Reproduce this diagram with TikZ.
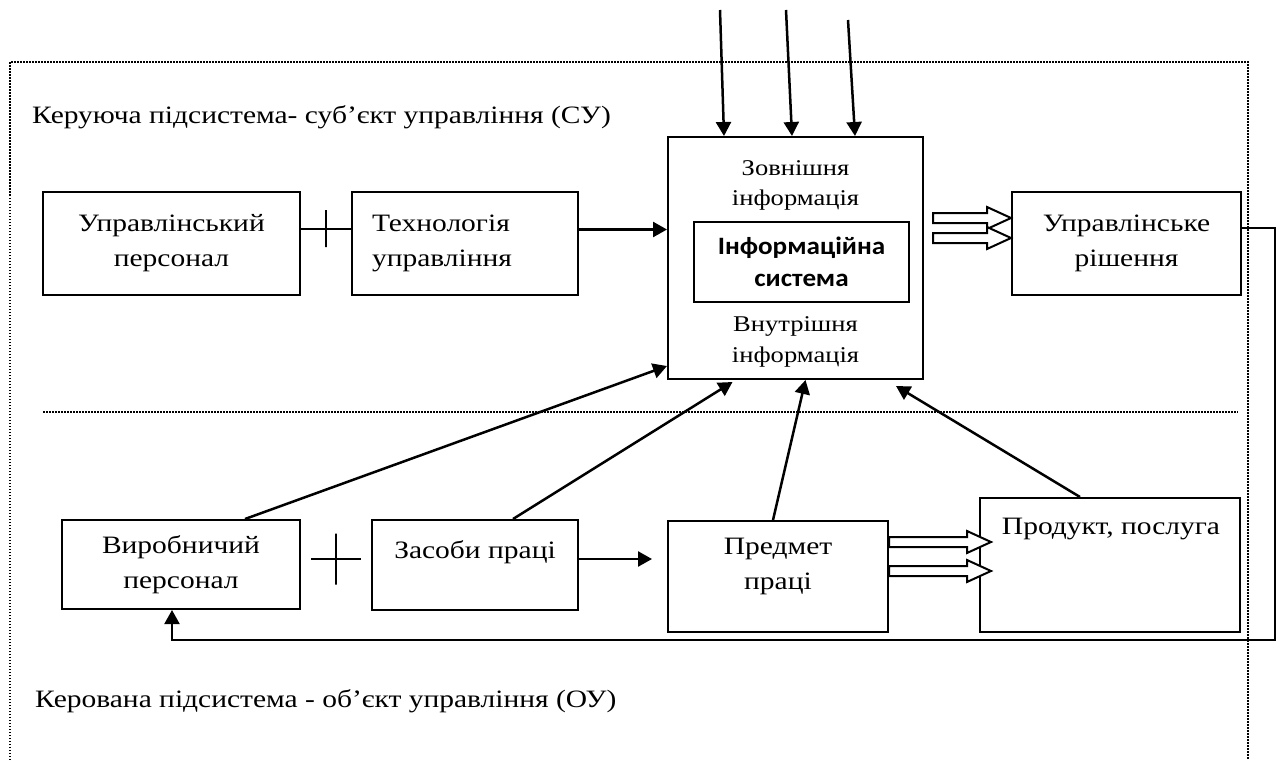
\documentclass[tikz,border=0pt]{standalone}
\usepackage{fontspec}
\setmainfont[FakeStretch=1.18]{Liberation Serif}
\newfontfamily\boldsans[FakeStretch=1.085]{Carlito}
\usetikzlibrary{arrows.meta,calc}

% open block arrow from #1 to the tip #2 (same height)
\newcommand\fatarrow[2]{%
  \draw[line width=2pt,fill=white] let \p1=#1, \p2=#2 in
    (\x1,\y1+5pt) -- (\x2-24pt,\y1+5pt) -- (\x2-24pt,\y1+11pt) -- (\x2,\y1)
    -- (\x2-24pt,\y1-11pt) -- (\x2-24pt,\y1-5pt) -- (\x1,\y1-5pt) -- cycle;}

\begin{document}
\begin{tikzpicture}[x=1pt,y=-1pt,
    box/.style={draw,line width=2pt,inner sep=0pt,align=center,
      font=\fontsize{25}{35}\selectfont},
    txt/.style={inner sep=0pt,align=center,font=\fontsize{25}{35}\selectfont},
    arr/.style={line width=2.5pt,-{Triangle[length=14pt,width=15pt]}},
    link/.style={line width=2pt},
    tick/.style={draw,line width=2pt,minimum width=0pt,inner sep=0pt},
    dotline/.style={line width=1.6pt,dash pattern=on 1.5pt off 1.5pt}]
\useasboundingbox (0,0) rectangle (1279,760);

% frame and border between the subsystems
\draw[dotline] (10,760) -- (10,62) -- (1248,62) -- (1248,760);
\draw[dotline] (43,412) -- (1238,412);

\node[txt,anchor=base west] (cu) at (32,123) {Керуюча підсистема- суб’єкт управління (СУ)};
\node[txt,anchor=base west] (ou) at (35,707) {Керована підсистема - об’єкт управління (ОУ)};

% control subsystem
\node[box,minimum width=257pt,minimum height=103pt] (upers) at (171.5,243.5) {Управлінський\\персонал};
\node[box,minimum width=226pt,minimum height=103pt,text width=186pt,align=left] (tech) at (465,243.5) {Технологія\\управління};
\node[box,minimum width=255pt,minimum height=242pt] (sys) at (795.5,258) {};
\node[txt,anchor=north,font=\fontsize{22.5}{30}\selectfont] (ext) at (795.5,160) {Зовнішня\\інформація};
\node[txt,anchor=north,font=\fontsize{22.5}{31}\selectfont] (int) at (795.5,316) {Внутрішня\\інформація};
\node[box,minimum width=215pt,minimum height=80pt,font=\boldsans\bfseries\fontsize{25}{32}\selectfont] (core) at (801.5,262) {Інформаційна\\система};
\node[box,minimum width=229pt,minimum height=103pt] (dec) at (1126.5,243.5) {Управлінське\\рішення};

% managed subsystem
\node[box,minimum width=238pt,minimum height=89pt] (wpers) at (181,564.5) {Виробничий\\персонал};
\node[box,minimum width=206pt,minimum height=90pt] (means) at (475,565) {};
\node[txt,anchor=base] (meanst) at (475,558) {Засоби праці};
\node[box,minimum width=220pt,minimum height=111pt] (subj) at (778,576.5) {};
\node[txt,anchor=north] (subjt) at (778,538) {Предмет\\праці};
\node[box,minimum width=260pt,minimum height=134pt] (prod) at (1110,565) {};
\node[txt,anchor=base] (prodt) at (1111,534) {Продукт, послуга};

% external inputs
\coordinate (in1) at (720,10);
\coordinate (in2) at (786,10);
\coordinate (in3) at (848,20);
\draw[arr] (in1) -- ([xshift=-71.5pt]sys.north);
\draw[arr] (in2) -- ([xshift=-3.5pt]sys.north);
\draw[arr] (in3) -- ([xshift=59.5pt]sys.north);

\draw[link] ([yshift=15pt]upers.east) -- ([yshift=15pt]upers.east -| tech.west)
  node[tick,midway,minimum height=37pt] (tk1) {};
\draw[arr] ([yshift=14pt]tech.east) -- ([yshift=14pt]tech.east -| sys.west);
\fatarrow{([xshift=9pt,yshift=40pt]sys.east)}{(dec.west)}
\fatarrow{([xshift=9pt,yshift=20pt]sys.east)}{(dec.west)}

\draw[link,shorten <=10pt,shorten >=10pt] ([yshift=5.5pt]wpers.east) -- ([yshift=5.5pt]wpers.east -| means.west)
  node[tick,midway,minimum height=51pt] (tk2) {};
\draw[arr,shorten >=15pt] ([yshift=6pt]means.east) -- ([yshift=6pt]means.east -| subj.west);
\fatarrow{([yshift=34.5pt]subj.east)}{([xshift=12pt,yshift=34.5pt]prod.west)}
\fatarrow{([yshift=5.5pt]subj.east)}{([xshift=12pt,yshift=5.5pt]prod.west)}

% information flows into the system
\draw[arr] ([xshift=64pt]wpers.north) -- ([yshift=14pt]sys.south west);
\draw[arr] ([xshift=38pt]means.north) -- ([xshift=-63pt,yshift=-2pt]sys.south);
\draw[arr] ([xshift=-5pt]subj.north) -- ([xshift=10pt]sys.south);
\draw[arr] ([xshift=-30pt]prod.north) -- ([xshift=-28pt,yshift=-6pt]sys.south east);

% feedback
\coordinate (fb) at (1275,640);
\draw[line width=2pt,-{Triangle[length=14pt,width=15pt]}] ([yshift=15.5pt]dec.east) -| (fb) -| ([xshift=-9pt]wpers.south);
\end{tikzpicture}
\end{document}
